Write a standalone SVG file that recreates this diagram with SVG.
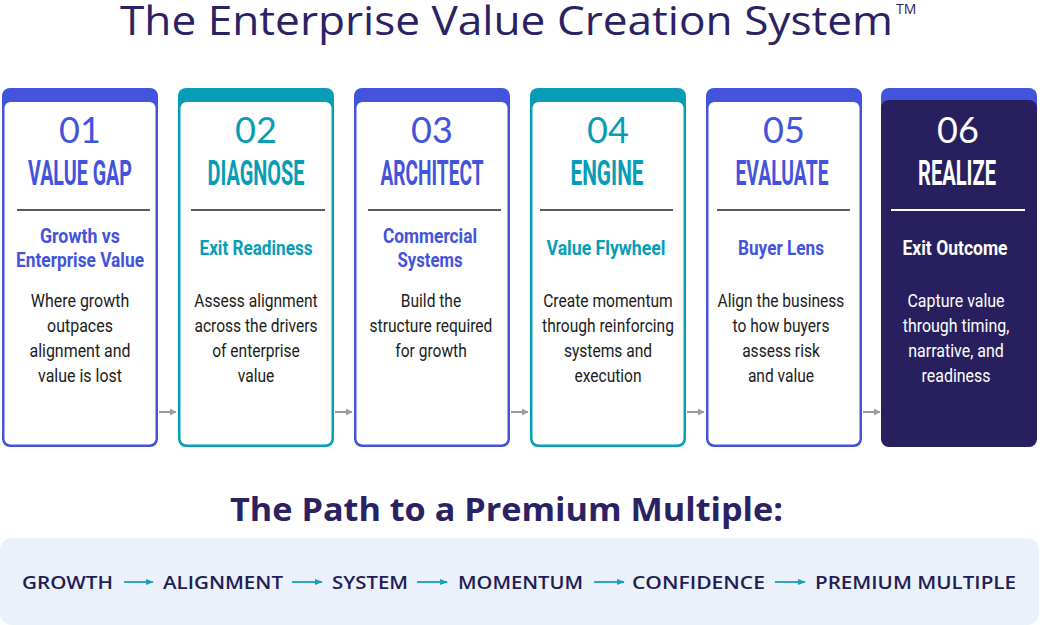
<svg xmlns="http://www.w3.org/2000/svg" width="1040" height="625" viewBox="0 0 1040 625">
<defs>
<style>
.h1{font-family:"Open Sans","Liberation Sans",sans-serif;font-weight:400;font-size:40px;fill:#2B2263}
.tm{font-family:"Open Sans","Liberation Sans",sans-serif;font-size:14px;fill:#2B2263}
.num{font-family:Lato,"Open Sans",sans-serif;font-weight:400;font-size:36px;text-anchor:middle}
.ttl{font-family:Roboto,"Liberation Sans",sans-serif;font-weight:700;font-size:35px;text-anchor:middle}
.sub{font-family:Roboto,"Liberation Sans",sans-serif;font-weight:700;font-size:20px;text-anchor:middle}
.body{font-family:Roboto,"Liberation Sans",sans-serif;font-weight:400;font-size:19px;text-anchor:middle;fill:#1b1b1b}
.blue{fill:#4353DC}
.teal{fill:#079DB6}
.white{fill:#ffffff}
.div{stroke:#5a5a5a;stroke-width:2}
.conn{stroke:#9a9a9a;stroke-width:2;fill:none}
.h2{font-family:"Open Sans","Liberation Sans",sans-serif;font-weight:700;font-size:32px;fill:#2B2263}
.path{font-family:"Open Sans","Liberation Sans",sans-serif;font-weight:600;font-size:18px;fill:#221D55}
.parr{stroke:#1A9FB8;stroke-width:1.8;fill:none}
</style>
<marker id="ah" viewBox="0 0 10 10" refX="9" refY="5" markerWidth="7" markerHeight="7" orient="auto" markerUnits="userSpaceOnUse">
<path d="M0,0 L10,5 L0,10 z" fill="#9a9a9a"/>
</marker>
<marker id="ah2" viewBox="0 0 10 10" refX="9" refY="5" markerWidth="8" markerHeight="8" orient="auto" markerUnits="userSpaceOnUse">
<path d="M0,1 L10,5 L0,9 z" fill="#1A9FB8"/>
</marker>
</defs>
<rect width="1040" height="625" fill="#ffffff"/>

<text class="h1" x="120" y="35" textLength="773" lengthAdjust="spacingAndGlyphs">The Enterprise Value Creation System</text>
<text class="tm" x="896" y="14">TM</text>

<g id="connectors">
<line class="conn" x1="159" y1="412" x2="176" y2="412" marker-end="url(#ah)"/>
<line class="conn" x1="335" y1="412" x2="352" y2="412" marker-end="url(#ah)"/>
<line class="conn" x1="511" y1="412" x2="528" y2="412" marker-end="url(#ah)"/>
<line class="conn" x1="687" y1="412" x2="704" y2="412" marker-end="url(#ah)"/>
<line class="conn" x1="863" y1="412" x2="880" y2="412" marker-end="url(#ah)"/>
</g>

<g id="card1">
<rect x="2" y="88" width="156" height="359" rx="8" fill="#4353DC"/>
<rect x="4.5" y="102" width="151" height="342.5" rx="6" fill="#ffffff"/>
<text class="num blue" x="80" y="143">01</text>
<text class="ttl blue" x="80" y="185" textLength="104" lengthAdjust="spacingAndGlyphs">VALUE GAP</text>
<line class="div" x1="17" y1="210" x2="150" y2="210"/>
<text class="sub blue" x="80" y="243" textLength="80" lengthAdjust="spacingAndGlyphs">Growth vs</text>
<text class="sub blue" x="80" y="267" textLength="128" lengthAdjust="spacingAndGlyphs">Enterprise Value</text>
<g transform="translate(80 0) scale(0.84 1)">
<text class="body" x="0" y="307">Where growth</text>
<text class="body" x="0" y="332">outpaces</text>
<text class="body" x="0" y="357">alignment and</text>
<text class="body" x="0" y="382">value is lost</text>
</g>
</g>

<g id="card2">
<rect x="178" y="88" width="156" height="359" rx="8" fill="#079DB6"/>
<rect x="180.5" y="102" width="151" height="342.5" rx="6" fill="#ffffff"/>
<text class="num teal" x="256" y="143">02</text>
<text class="ttl teal" x="256" y="185" textLength="97" lengthAdjust="spacingAndGlyphs">DIAGNOSE</text>
<line class="div" x1="191" y1="210" x2="325" y2="210"/>
<text class="sub teal" x="256" y="255" textLength="113" lengthAdjust="spacingAndGlyphs">Exit Readiness</text>
<g transform="translate(256 0) scale(0.82 1)">
<text class="body" x="0" y="307">Assess alignment</text>
<text class="body" x="0" y="332">across the drivers</text>
<text class="body" x="0" y="357">of enterprise</text>
<text class="body" x="0" y="382">value</text>
</g>
</g>

<g id="card3">
<rect x="354" y="88" width="156" height="359" rx="8" fill="#4353DC"/>
<rect x="356.5" y="102" width="151" height="342.5" rx="6" fill="#ffffff"/>
<text class="num blue" x="432" y="143">03</text>
<text class="ttl blue" x="432" y="185" textLength="103" lengthAdjust="spacingAndGlyphs">ARCHITECT</text>
<line class="div" x1="368" y1="210" x2="501" y2="210"/>
<text class="sub blue" x="430" y="243" textLength="94" lengthAdjust="spacingAndGlyphs">Commercial</text>
<text class="sub blue" x="430" y="267" textLength="65" lengthAdjust="spacingAndGlyphs">Systems</text>
<g transform="translate(431 0) scale(0.82 1)">
<text class="body" x="0" y="307">Build the</text>
<text class="body" x="0" y="332">structure required</text>
<text class="body" x="0" y="357">for growth</text>
</g>
</g>

<g id="card4">
<rect x="530" y="88" width="156" height="359" rx="8" fill="#079DB6"/>
<rect x="532.5" y="102" width="151" height="342.5" rx="6" fill="#ffffff"/>
<text class="num teal" x="608" y="143">04</text>
<text class="ttl teal" x="607" y="185" textLength="73" lengthAdjust="spacingAndGlyphs">ENGINE</text>
<line class="div" x1="540" y1="210" x2="673" y2="210"/>
<text class="sub teal" x="606" y="255" textLength="119" lengthAdjust="spacingAndGlyphs">Value Flywheel</text>
<g transform="translate(608 0) scale(0.82 1)">
<text class="body" x="0" y="307">Create momentum</text>
<text class="body" x="0" y="332">through reinforcing</text>
<text class="body" x="0" y="357">systems and</text>
<text class="body" x="0" y="382">execution</text>
</g>
</g>

<g id="card5">
<rect x="706" y="88" width="156" height="359" rx="8" fill="#4353DC"/>
<rect x="708.5" y="102" width="151" height="342.5" rx="6" fill="#ffffff"/>
<text class="num blue" x="784" y="143">05</text>
<text class="ttl blue" x="782" y="185" textLength="93" lengthAdjust="spacingAndGlyphs">EVALUATE</text>
<line class="div" x1="717" y1="210" x2="850" y2="210"/>
<text class="sub blue" x="781" y="255" textLength="86" lengthAdjust="spacingAndGlyphs">Buyer Lens</text>
<g transform="translate(781 0) scale(0.82 1)">
<text class="body" x="0" y="307">Align the business</text>
<text class="body" x="0" y="332">to how buyers</text>
<text class="body" x="0" y="357">assess risk</text>
<text class="body" x="0" y="382">and value</text>
</g>
</g>

<g id="card6">
<rect x="881" y="88" width="156" height="40" rx="8" fill="#4353DC"/>
<rect x="881" y="100" width="156" height="347" rx="8" fill="#281F5E"/>
<text class="num white" x="958" y="143">06</text>
<text class="ttl white" x="957" y="185" textLength="78" lengthAdjust="spacingAndGlyphs">REALIZE</text>
<line x1="891" y1="210" x2="1025" y2="210" stroke="#ffffff" stroke-width="2"/>
<text class="sub white" x="955" y="255" textLength="105" lengthAdjust="spacingAndGlyphs">Exit Outcome</text>
<g transform="translate(956 0) scale(0.84 1)">
<text class="body white" x="0" y="307">Capture value</text>
<text class="body white" x="0" y="332">through timing,</text>
<text class="body white" x="0" y="357">narrative, and</text>
<text class="body white" x="0" y="382">readiness</text>
</g>
</g>

<text class="h2" x="230" y="521" textLength="553" lengthAdjust="spacingAndGlyphs">The Path to a Premium Multiple:</text>

<g id="path-panel">
<rect x="0" y="538" width="1039" height="87" rx="12" fill="#EBF1FA"/>
<text class="path" x="22" y="589" textLength="91" lengthAdjust="spacingAndGlyphs">GROWTH</text>
<text class="path" x="163" y="589" textLength="120" lengthAdjust="spacingAndGlyphs">ALIGNMENT</text>
<text class="path" x="332" y="589" textLength="76" lengthAdjust="spacingAndGlyphs">SYSTEM</text>
<text class="path" x="458" y="589" textLength="125" lengthAdjust="spacingAndGlyphs">MOMENTUM</text>
<text class="path" x="632" y="589" textLength="133" lengthAdjust="spacingAndGlyphs">CONFIDENCE</text>
<text class="path" x="815" y="589" textLength="201" lengthAdjust="spacingAndGlyphs">PREMIUM MULTIPLE</text>
</g>
<g id="path-connectors">
<line class="parr" x1="124" y1="582" x2="153" y2="582" marker-end="url(#ah2)"/>
<line class="parr" x1="292" y1="582" x2="322" y2="582" marker-end="url(#ah2)"/>
<line class="parr" x1="417" y1="582" x2="447" y2="582" marker-end="url(#ah2)"/>
<line class="parr" x1="594" y1="582" x2="624" y2="582" marker-end="url(#ah2)"/>
<line class="parr" x1="775" y1="582" x2="805" y2="582" marker-end="url(#ah2)"/>
</g>
</svg>
